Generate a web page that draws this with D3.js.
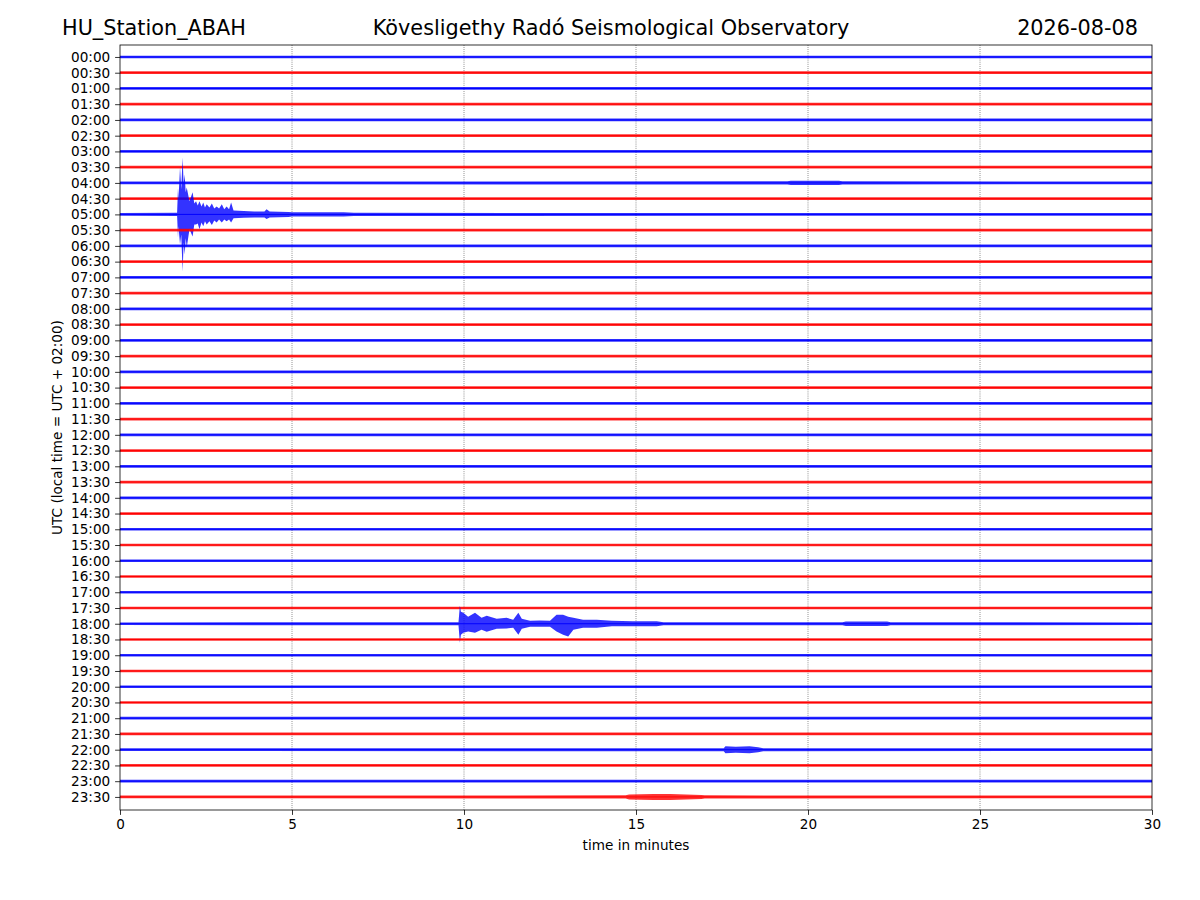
<!DOCTYPE html>
<html lang="en">
<head>
<meta charset="utf-8">
<style>
    body { margin: 0; background: #fff; }
    svg text { font-family: "DejaVu Sans", sans-serif; fill: black; }
    .axis line { stroke: black; stroke-width: 0.8; }
    .axis text { font-size: 13.6px; }
</style>
<script src="https://cdn.jsdelivr.net/npm/d3@7"></script>
</head>
<body>
<script>
// start time of each 30 minute line
const traceLabels = ["00:00","00:30","01:00","01:30","02:00","02:30","03:00","03:30",
    "04:00","04:30","05:00","05:30","06:00","06:30","07:00","07:30",
    "08:00","08:30","09:00","09:30","10:00","10:30","11:00","11:30",
    "12:00","12:30","13:00","13:30","14:00","14:30","15:00","15:30",
    "16:00","16:30","17:00","17:30","18:00","18:30","19:00","19:30",
    "20:00","20:30","21:00","21:30","22:00","22:30","23:00","23:30"];
const minuteTicks = [0, 5, 10, 15, 20, 25, 30];

// background noise half-amplitude (10 units = one line spacing)
const noiseLevel = 0.85;

// envelopes: [minute, up, down]
const env0500 = [[1.66,1,1],[1.686,17,14.6],[1.70,9.5,7.6],[1.745,29.9,19.1],[1.78,15.9,12.7],
    [1.82,36.2,36.2],[1.85,19.1,17.8],[1.88,25.4,25.4],[1.91,14,15.2],[1.94,17.1,21],
    [2.02,8.3,9.5],[2.11,14,14],[2.16,7,6.4],[2.21,8.3,6.4],[2.26,5.7,5.7],[2.31,8.3,9.5],
    [2.37,5.1,5.1],[2.42,7.6,7.6],[2.47,4.4,4.4],[2.52,6.4,6.4],[2.60,4.4,4.4],[2.67,7,6.8],
    [2.74,3.8,3.8],[2.81,5.1,5.1],[2.88,3.8,3.2],[2.96,6.4,5.1],[3.03,3.2,3.2],[3.10,5.1,4.4],
    [3.17,3.2,3.2],[3.23,7.6,5.1],[3.30,2.5,2.5],[3.60,2.2,2.2],[3.90,1.9,1.9],[4.20,1.9,1.9],
    [4.26,3.2,2.9],[4.35,1.9,1.9],[4.90,1.6,1.6],[5.00,1.3,1.3],[6.50,1.3,1.3],[6.80,1,1]];
const env1800 = [[9.84,1,1],[9.88,11.4,12.1],[9.91,7.6,7.0],[9.98,7.0,5.7],[10.12,4.4,4.9],
    [10.32,7.0,5.7],[10.51,3.8,3.8],[10.66,5.1,5.1],[10.95,3.2,3.2],[11.24,3.8,3.0],[11.43,2.5,2.5],
    [11.58,7.0,7.0],[11.68,3.2,3.2],[11.92,1.9,1.9],[12.20,2.1,1.9],[12.50,1.9,1.9],[12.69,5.7,4.9],
    [12.88,5.7,7.0],[13.03,4.4,8.1],[13.18,3.8,3.8],[13.46,2.5,2.5],[13.86,2.5,2.5],[14.30,1.9,1.6],
    [14.90,1.6,1.6],[15.60,1.6,1.6],[15.80,1,1],
    [21.00,1,1],[21.10,1.5,1.5],[22.30,1.5,1.5],[22.40,1,1]];
const env2200 = [[17.55,1,1],[17.60,2.2,2.2],[17.90,1.9,1.9],[18.30,2.2,2.2],[18.55,1.6,1.6],[18.70,1,1]];
const env2330 = [[14.70,1,1],[14.80,1.6,1.6],[15.50,1.9,1.9],[16.00,1.9,1.9],[16.90,1.3,1.3],[17.00,1,1]];
const env0400 = [[19.40,1,1],[19.50,1.4,1.4],[20.90,1.4,1.4],[21.00,1,1]];

const events = new Map([["04:00", env0400], ["05:00", env0500], ["18:00", env1800],
    ["22:00", env2200], ["23:30", env2330]]);

const W = 1200, H = 900;
const plotL = 120, plotR = 1152, plotT = 45, plotB = 810;
const colors = ["#0000ff", "#ff0000"];

const svg = d3.select("body").append("svg")
    .attr("width", W)
    .attr("height", H);

let x = d3.scaleLinear().domain([0, 30]).range([plotL, plotR]);
let y = d3.scaleLinear().domain([-0.76, 47.83]).range([plotT, plotB]);
let amp = d3.scaleLinear().domain([0, 10]).range([0, 1]);

// grid
svg.append("g")
    .selectAll("line")
    .data(minuteTicks.slice(1, -1))
    .join("line")
    .attr("x1", d => x(d)).attr("x2", d => x(d))
    .attr("y1", plotT).attr("y2", plotB)
    .attr("stroke", "#555")
    .attr("stroke-width", 0.8)
    .attr("stroke-dasharray", "0.8,1.3");

const area = d3.area()
    .x(d => x(d[0]))
    .y0((d) => y(d.row + amp(d[2])))
    .y1((d) => y(d.row - amp(d[1])));

const traces = svg.append("g");
traceLabels.forEach((lab, i) => {
    let pts = [[0, noiseLevel, noiseLevel]];
    if (events.has(lab)) pts = pts.concat(events.get(lab));
    pts.push([30, noiseLevel, noiseLevel]);
    pts.forEach(p => p.row = i);
    let c = colors[i % 2];
    traces.append("path")
        .datum(pts)
        .attr("d", area)
        .attr("fill", c)
        .attr("fill-opacity", 0.8);
    traces.append("line")
        .attr("x1", x(0)).attr("x2", x(30))
        .attr("y1", y(i)).attr("y2", y(i))
        .attr("stroke", c)
        .attr("stroke-width", 1);
});

// axes
let yAxis = svg.append("g")
    .attr("class", "axis")
    .attr("transform", `translate(${plotL},0)`)
    .call(d3.axisLeft(y).tickValues(d3.range(traceLabels.length))
        .tickFormat(i => traceLabels[i]).tickSize(4.9).tickPadding(4.9));
yAxis.select(".domain").remove();

let xAxis = svg.append("g")
    .attr("class", "axis")
    .attr("transform", `translate(0,${plotB})`)
    .call(d3.axisBottom(x).tickValues(minuteTicks).tickFormat(d3.format("d"))
        .tickSize(4.9).tickPadding(4.9));
xAxis.select(".domain").remove();

svg.append("rect")
    .attr("x", plotL).attr("y", plotT)
    .attr("width", plotR - plotL).attr("height", plotB - plotT)
    .attr("fill", "none")
    .attr("stroke", "black")
    .attr("stroke-width", 0.8);

svg.append("text")
    .attr("x", (plotL + plotR) / 2)
    .attr("y", 850)
    .attr("text-anchor", "middle")
    .style("font-size", "13.6px")
    .text("time in minutes");

svg.append("text")
    .attr("transform", `translate(62,${(plotT + plotB) / 2}) rotate(-90)`)
    .attr("text-anchor", "middle")
    .style("font-size", "13.6px")
    .text("UTC (local time = UTC + 02:00)");

// titles
svg.append("text")
    .attr("x", 62).attr("y", 35)
    .style("font-size", "20.8px")
    .text("HU_Station_ABAH");
svg.append("text")
    .attr("x", 611).attr("y", 35)
    .attr("text-anchor", "middle")
    .style("font-size", "20.8px")
    .text("Kövesligethy Radó Seismological Observatory");
svg.append("text")
    .attr("x", 1138).attr("y", 35)
    .attr("text-anchor", "end")
    .style("font-size", "20.8px")
    .text("2026-08-08");
</script>
</body>
</html>
